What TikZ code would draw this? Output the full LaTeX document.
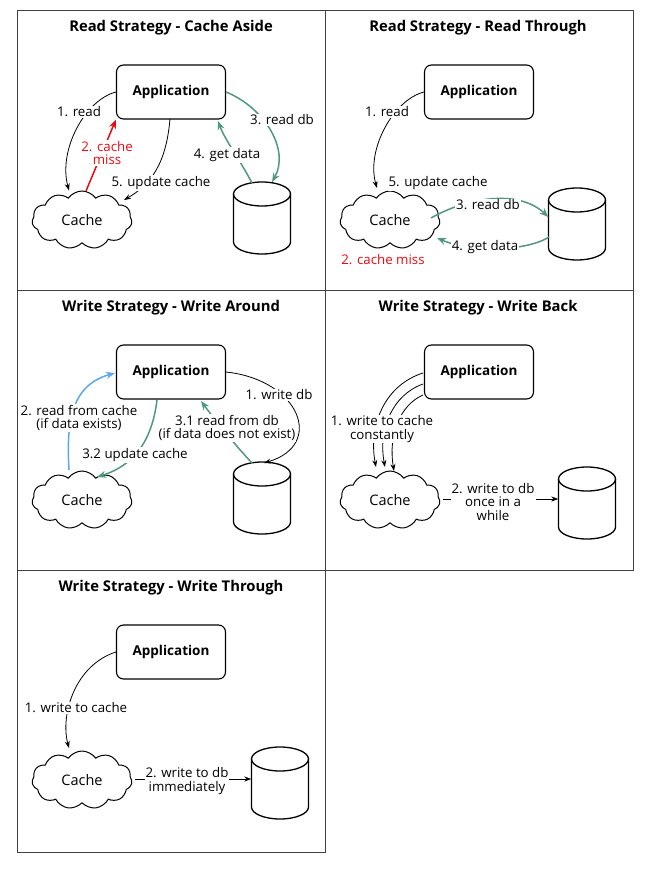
\documentclass[tikz,border=0pt]{standalone}
\usepackage{fontspec}
\setmainfont{Open Sans}
\usetikzlibrary{arrows.meta,shapes.symbols}

\definecolor{flowgreen}{RGB}{80,152,132}
\definecolor{flowblue}{RGB}{90,168,240}
\definecolor{flowred}{RGB}{235,10,15}

\tikzset{
  panel/.style={draw=black!75, line width=0.8pt},
  ptitle/.style={font=\bfseries\fontsize{14.8}{17}\selectfont},
  appbox/.style={draw, line width=1.1pt, rounded corners=7pt, minimum width=109pt,
    minimum height=54pt, font=\bfseries\fontsize{13.5}{16}\selectfont},
  cachecloud/.style={cloud, draw, line width=1pt, cloud puffs=11, cloud puff arc=110,
    minimum width=100pt, minimum height=58pt, aspect=1.7, font=\fontsize{14.5}{17}\selectfont},
  dbhold/.style={minimum width=57pt, minimum height=72pt, inner sep=0pt},
  lbl/.style={fill=white, inner sep=1pt, align=center, font=\fontsize{13.3}{15.5}\selectfont},
  thinarrow/.style={draw, line width=0.8pt, -{Stealth[length=7pt,width=5pt]}},
  greenarrow/.style={draw=flowgreen, line width=1.5pt, -{Stealth[length=9pt,width=7pt]}},
  bluearrow/.style={draw=flowblue, line width=1.5pt, -{Stealth[length=9pt,width=7pt]}},
  redarrow/.style={draw=flowred, line width=1.5pt, -{Stealth[length=9pt,width=7pt]}},
}

% database cylinder: #1 name, (#2,#3) centre
\newcommand{\dbcylinder}[3]{%
  \node[dbhold] (#1) at (#2,#3) {};
  \draw[line width=1.3pt]
    (#2-28.5,#3-24) -- (#2-28.5,#3+24)
    arc[start angle=180, end angle=360, x radius=28.5, y radius=-12]
    -- (#2+28.5,#3-24);
  \draw[line width=1.3pt] (#2,#3-24) ellipse[x radius=28.5, y radius=12];
}

\begin{document}
\begin{tikzpicture}[x=1pt,y=-1pt]
\useasboundingbox (0,0) rectangle (654,874);
\fill[white] (0,0) rectangle (654,874);

% panel frames
\draw[panel] (17,10) rectangle (325,290);
\draw[panel] (325,10) rectangle (633,290);
\draw[panel] (17,290) rectangle (325,570);
\draw[panel] (325,290) rectangle (633,570);
\draw[panel] (17,570) rectangle (325,852);

% ---------- Read Strategy - Cache Aside ----------
\node[ptitle] (t1) at (171,27.5) {Read Strategy - Cache Aside};
\node[appbox] (app1) at (171,92) {Application};
\node[cachecloud] (cache1) at (82,220) {Cache};
\dbcylinder{db1}{262}{218}

\draw[thinarrow] (app1.west) .. controls (85,100) and (58,150) .. (cache1.north -| 69,0);
\draw[redarrow] (86,191) -- (app1.south west);
\draw[thinarrow] (170,119) .. controls (166,165) and (150,185) .. (124,200);
\draw[greenarrow] (app1.east) .. controls (265,108) and (290,150) .. (272,182);
\draw[greenarrow] (252,183) .. controls (240,160) and (225,140) .. (218,121);

\node[lbl] at (79,112) {1. read};
\node[lbl, text=flowred] at (107,153) {2. cache\\[-2pt]miss};
\node[lbl] at (161,183) {5. update cache};
\node[lbl] at (282,120) {3. read db};
\node[lbl] at (227,155) {4. get data};

% ---------- Read Strategy - Read Through ----------
\node[ptitle] (t2) at (478,27.5) {Read Strategy - Read Through};
\node[appbox] (app2) at (479,92) {Application};
\node[cachecloud] (cache2) at (390,220) {Cache};
\dbcylinder{db2}{577}{224}

\draw[thinarrow] (app2.west) .. controls (393,100) and (366,150) .. (377,188);
\draw[greenarrow] (431,218) .. controls (470,196) and (520,190) .. (db2.west |- 0,217);
\draw[greenarrow] (549,237) .. controls (525,252) and (470,252) .. (437,238);

\node[lbl] at (387,112) {1. read};
\node[lbl] at (438,183) {5. update cache};
\node[lbl] at (488,205) {3. read db};
\node[lbl] at (485,247) {4. get data};
\node[lbl, text=flowred] at (383,260) {2. cache miss};

% ---------- Write Strategy - Write Around ----------
\node[ptitle] (t3) at (171,307.5) {Write Strategy - Write Around};
\node[appbox] (app3) at (171,372) {Application};
\node[cachecloud] (cache3) at (82,500) {Cache};
\dbcylinder{db3}{262}{498}

\draw[thinarrow] (app3.east) .. controls (300,380) and (325,445) .. (264,463);
\draw[bluearrow] (69,470) .. controls (66,420) and (72,385) .. (115,373);
\draw[greenarrow] (157,400) .. controls (152,440) and (135,465) .. (97,477);
\draw[greenarrow] (252,463) .. controls (235,445) and (215,420) .. (201,401);

\node[lbl] at (79,418) {2. read from cache\\[-2pt](if data exists)};
\node[lbl] at (279,395) {1. write db};
\node[lbl] at (135,455) {3.2 update cache};
\node[lbl] at (227,428) {3.1 read from db\\[-2pt](if data does not exist)};

% ---------- Write Strategy - Write Back ----------
\node[ptitle] (t4) at (478,307.5) {Write Strategy - Write Back};
\node[appbox] (app4) at (479,372) {Application};
\node[cachecloud] (cache4) at (390,500) {Cache};
\dbcylinder{db4}{587}{503}

\draw[thinarrow] (423,373) .. controls (385,385) and (368,425) .. (376,467);
\draw[thinarrow] (423,384) .. controls (392,395) and (378,430) .. (385,467);
\draw[thinarrow] (423,395) .. controls (400,405) and (388,435) .. (394,471);
\draw[thinarrow] (443,499) -- (db4.west |- 0,499);

\node[lbl] at (382,429) {1. write to cache\\[-2pt]constantly};
\node[lbl] at (493,502) {2. write to db\\[-2pt]once in a\\[-2pt]while};

% ---------- Write Strategy - Write Through ----------
\node[ptitle] (t5) at (171,587.5) {Write Strategy - Write Through};
\node[appbox] (app5) at (171,652) {Application};
\node[cachecloud] (cache5) at (82,780) {Cache};
\dbcylinder{db5}{280}{783}

\draw[thinarrow] (app5.west) .. controls (75,665) and (60,715) .. (69,748);
\draw[thinarrow] (135,779) -- (db5.west |- 0,779);

\node[lbl] at (76,708) {1. write to cache};
\node[lbl] at (187,781) {2. write to db\\[-2pt]immediately};

\end{tikzpicture}
\end{document}
